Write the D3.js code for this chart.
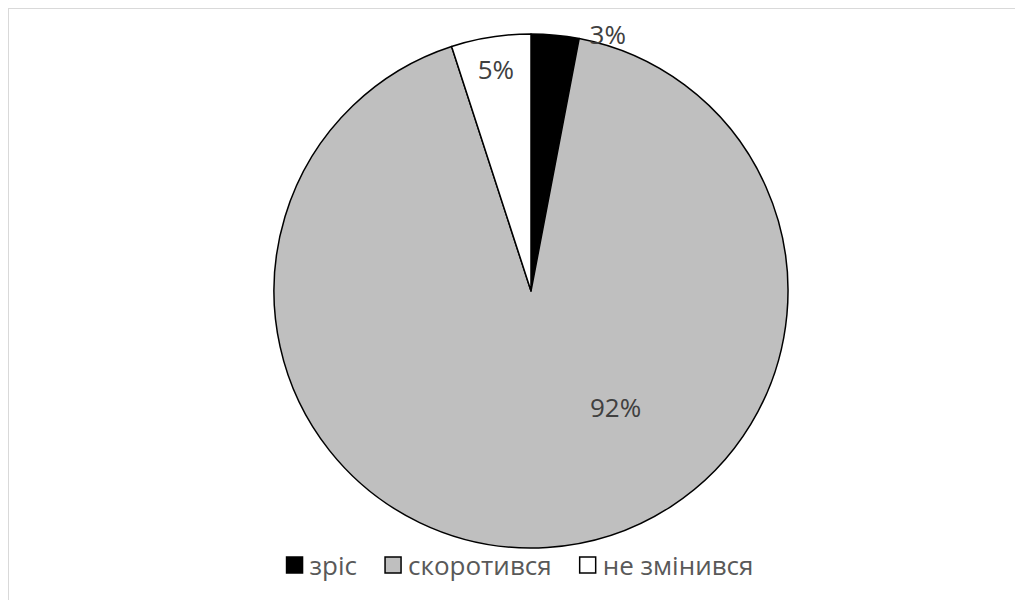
<!DOCTYPE html>
<html>
<head>
<meta charset="utf-8">
<script src="https://cdn.jsdelivr.net/npm/d3@7"></script>
<style>
  html, body { margin: 0; padding: 0; background: #fff; }
  svg { display: block; }
</style>
</head>
<body>
<svg id="chart" width="1015" height="600"></svg>
<script>
// ---- data ----
const categories = ["зріс", "скоротився", "не змінився"];
const values = [3, 92, 5];
const labels = ["3%", "92%", "5%"];
const colors = ["#000000", "#bfbfbf", "#ffffff"];

// ---- layout ----
const W = 1015, H = 600;
const cx = 531, cy = 291, R = 257;
const fontFamily = "'Open Sans', 'Noto Sans', sans-serif";
// label placement: angle (deg, clockwise from top) and radial factor
const labelPlacement = [
  { angle: 16.6, k: 1.045 },
  { angle: 144, k: 0.56 },
  { angle: 351, k: 0.875 }
];

const svg = d3.select("#chart");

// outer chart frame
svg.append("rect")
  .attr("x", 8.5).attr("y", 8.5)
  .attr("width", W).attr("height", H)
  .attr("fill", "none")
  .attr("stroke", "#d9d9d9")
  .attr("stroke-width", 1);

const pie = d3.pie().sort(null).value(d => d)
  .startAngle(0).endAngle(2 * Math.PI);
const arcs = pie(values);
const arc = d3.arc().innerRadius(0).outerRadius(R);

const g = svg.append("g").attr("transform", `translate(${cx},${cy})`);

g.selectAll("path.slice")
  .data(arcs)
  .enter().append("path")
  .attr("class", "slice")
  .attr("d", arc)
  .attr("fill", (d, i) => colors[i])
  .attr("stroke", "#000")
  .attr("stroke-width", 1.5)
  .attr("stroke-linejoin", "round");

g.selectAll("text.lbl")
  .data(arcs)
  .enter().append("text")
  .attr("class", "lbl")
  .attr("x", (d, i) => Math.sin(labelPlacement[i].angle * Math.PI / 180) * R * labelPlacement[i].k)
  .attr("y", (d, i) => -Math.cos(labelPlacement[i].angle * Math.PI / 180) * R * labelPlacement[i].k)
  .attr("text-anchor", "middle")
  .attr("dominant-baseline", "central")
  .attr("font-family", fontFamily)
  .attr("font-size", 26)
  .attr("fill", "#404040")
  .text((d, i) => labels[i]);

// legend
const legendFont = 26;
const sq = 16, sqGap = 7, itemGap = 28;
const legendCenterX = 520, legendY = 565;
const lg = svg.append("g");
const items = lg.selectAll("g.item").data(categories).enter().append("g").attr("class", "item");
items.append("rect")
  .attr("width", sq).attr("height", sq)
  .attr("y", legendY - sq / 2)
  .attr("fill", (d, i) => colors[i])
  .attr("stroke", "#000")
  .attr("stroke-width", 1.5);
items.append("text")
  .attr("y", legendY)
  .attr("dominant-baseline", "central")
  .attr("font-family", fontFamily)
  .attr("font-size", legendFont)
  .attr("fill", "#595959")
  .text(d => d);

// position legend items based on measured text widths
const widths = [];
items.select("text").each(function () { widths.push(this.getComputedTextLength()); });
const total = widths.reduce((s, w) => s + sq + sqGap + w, 0) + itemGap * (widths.length - 1);
let x = legendCenterX - total / 2;
items.each(function (d, i) {
  const it = d3.select(this);
  it.select("rect").attr("x", x);
  it.select("text").attr("x", x + sq + sqGap);
  x += sq + sqGap + widths[i] + itemGap;
});
</script>
</body>
</html>
